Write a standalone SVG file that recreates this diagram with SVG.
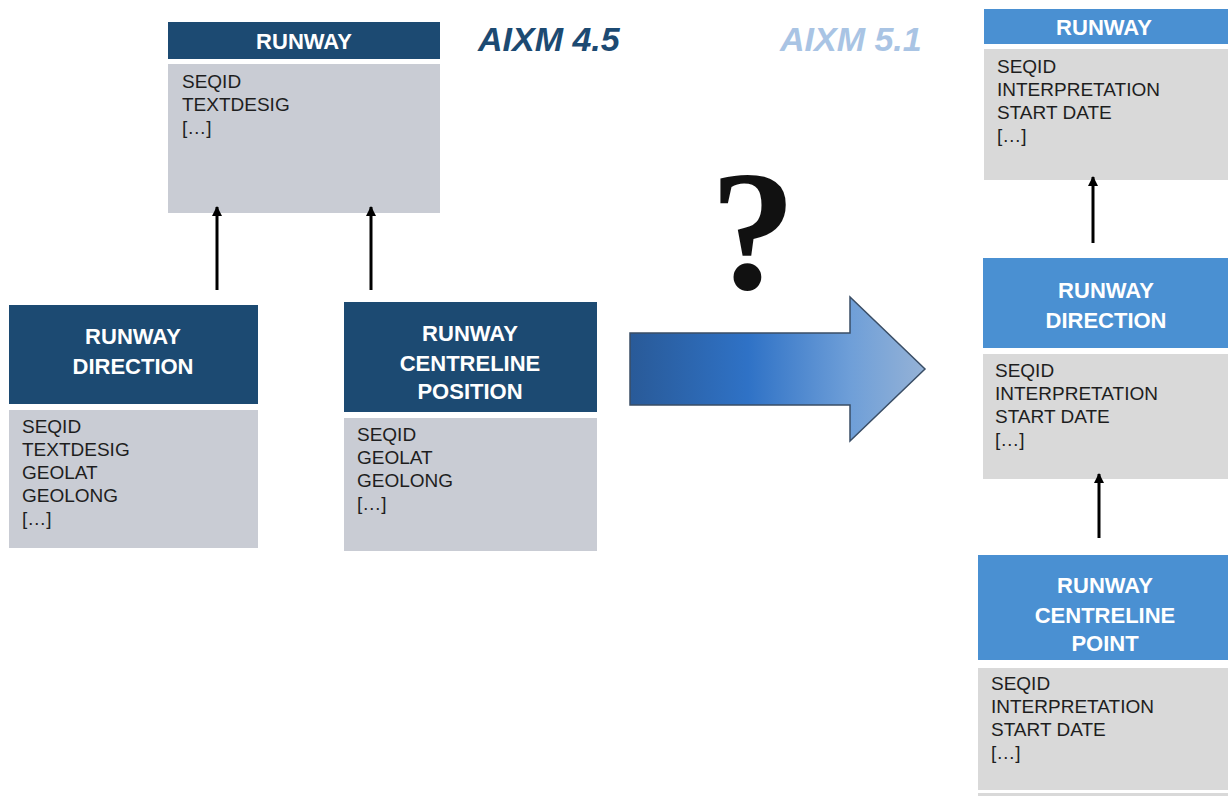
<svg xmlns="http://www.w3.org/2000/svg" width="1228" height="796" viewBox="0 0 1228 796">
<style>
.hd45{fill:#1c4a72}
.hd51{fill:#4a90d2}
.bd45{fill:#c9ccd4}
.bd51{fill:#d9d9d9}
.ht{font-family:"Liberation Sans",Arial,sans-serif;font-weight:bold;font-size:22px;fill:#ffffff;text-anchor:middle}
.it{font-family:"Liberation Sans",Arial,sans-serif;font-size:19px;fill:#1e1e1e}
.ver{font-family:"Liberation Sans",Arial,sans-serif;font-weight:bold;font-style:italic;font-size:34px}
.conn{stroke:#000;stroke-width:3;fill:none;marker-end:url(#ah)}
</style>
<defs>
<marker id="ah" viewBox="0 0 10 10" refX="9" refY="5" markerWidth="3.4" markerHeight="3.4" orient="auto" markerUnits="strokeWidth">
<path d="M0,0 L10,5 L0,10 z" fill="#000"/>
</marker>
<linearGradient id="bigArrow" x1="630" y1="0" x2="925" y2="0" gradientUnits="userSpaceOnUse">
<stop offset="0" stop-color="#295a98"/>
<stop offset="0.4" stop-color="#2f72c6"/>
<stop offset="0.75" stop-color="#6f9fd8"/>
<stop offset="1" stop-color="#95b2d6"/>
</linearGradient>
</defs>
<rect width="1228" height="796" fill="#ffffff"/>

<text class="ver" x="478" y="51" fill="#1c4a72">AIXM 4.5</text>
<text class="ver" x="780" y="51" fill="#a9c4e4">AIXM 5.1</text>

<g id="runway45">
<rect class="hd45" x="168" y="22" width="272" height="37"/>
<rect class="bd45" x="168" y="64" width="272" height="149"/>
<text class="ht" x="304" y="49">RUNWAY</text>
<text class="it" x="182" y="88">SEQID</text>
<text class="it" x="182" y="111">TEXTDESIG</text>
<text class="it" x="182" y="134">[…]</text>
</g>

<g id="rwydir45">
<rect class="hd45" x="9" y="305" width="249" height="99"/>
<rect class="bd45" x="9" y="410" width="249" height="138"/>
<text class="ht" x="133" y="344">RUNWAY</text>
<text class="ht" x="133" y="374">DIRECTION</text>
<text class="it" x="22" y="433">SEQID</text>
<text class="it" x="22" y="456">TEXTDESIG</text>
<text class="it" x="22" y="479">GEOLAT</text>
<text class="it" x="22" y="502">GEOLONG</text>
<text class="it" x="22" y="525">[…]</text>
</g>

<g id="rcp45">
<rect class="hd45" x="344" y="302" width="253" height="110"/>
<rect class="bd45" x="344" y="418" width="253" height="133"/>
<text class="ht" x="470" y="341">RUNWAY</text>
<text class="ht" x="470" y="371">CENTRELINE</text>
<text class="ht" x="470" y="399">POSITION</text>
<text class="it" x="357" y="441">SEQID</text>
<text class="it" x="357" y="464">GEOLAT</text>
<text class="it" x="357" y="487">GEOLONG</text>
<text class="it" x="357" y="510">[…]</text>
</g>

<g id="runway51">
<rect class="hd51" x="984" y="9" width="244" height="35"/>
<rect class="bd51" x="984" y="49" width="244" height="131"/>
<text class="ht" x="1104" y="35">RUNWAY</text>
<text class="it" x="997" y="73">SEQID</text>
<text class="it" x="997" y="96">INTERPRETATION</text>
<text class="it" x="997" y="119">START DATE</text>
<text class="it" x="997" y="142">[…]</text>
</g>

<g id="rwydir51">
<rect class="hd51" x="983" y="258" width="245" height="90"/>
<rect class="bd51" x="983" y="354" width="245" height="125"/>
<text class="ht" x="1106" y="298">RUNWAY</text>
<text class="ht" x="1106" y="328">DIRECTION</text>
<text class="it" x="995" y="377">SEQID</text>
<text class="it" x="995" y="400">INTERPRETATION</text>
<text class="it" x="995" y="423">START DATE</text>
<text class="it" x="995" y="446">[…]</text>
</g>

<g id="rcp51">
<rect class="hd51" x="978" y="555" width="250" height="105"/>
<rect class="bd51" x="978" y="668" width="250" height="122"/>
<rect class="bd51" x="978" y="793" width="250" height="3"/>
<text class="ht" x="1105" y="593">RUNWAY</text>
<text class="ht" x="1105" y="623">CENTRELINE</text>
<text class="ht" x="1105" y="651">POINT</text>
<text class="it" x="991" y="690">SEQID</text>
<text class="it" x="991" y="713">INTERPRETATION</text>
<text class="it" x="991" y="736">START DATE</text>
<text class="it" x="991" y="759">[…]</text>
</g>

<g id="transition">
<path d="M630,333 L850,333 L850,297 L925,369 L850,441 L850,405 L630,405 Z" fill="url(#bigArrow)" stroke="#3a4e66" stroke-width="1.5"/>
<text x="753" y="289" font-family="'Liberation Serif','Times New Roman',serif" font-weight="bold" font-size="172" fill="#111" text-anchor="middle">?</text>
</g>

<g id="connectors">
<line class="conn" x1="217" y1="290" x2="217" y2="207"/>
<line class="conn" x1="371" y1="290" x2="371" y2="207"/>
<line class="conn" x1="1093" y1="243" x2="1093" y2="177"/>
<line class="conn" x1="1099" y1="538" x2="1099" y2="474"/>
</g>
</svg>
